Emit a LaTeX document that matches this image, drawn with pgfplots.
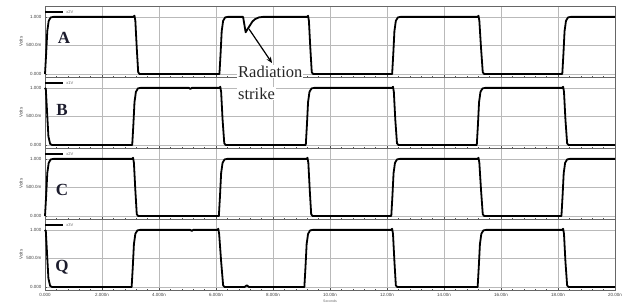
\documentclass[border=0pt]{standalone}
\usepackage{fontspec}
\setmainfont{Liberation Serif}
\newfontfamily\arial{Liberation Sans}
\usepackage{pgfplots}
\pgfplotsset{compat=1.18}
\usetikzlibrary{arrows.meta}
\definecolor{lbl}{RGB}{28,28,45}
\pgfplotsset{
  panel/.style={
    scale only axis, width=570pt, height=71pt, anchor=south west,
    xmin=0, xmax=20, ymin=-0.052, ymax=1.19,
    xtick={0,2,...,20}, ytick={0,0.5,1},
    yticklabels={0.000,500.0m,1.000},
    minor x tick num=4, minor y tick num=4,
    tick align=inside, major tick length=2pt, minor tick length=1.2pt,
    tick style={black!70, line width=0.4pt},
    xtick pos=bottom, ytick pos=left,
    grid=major, major grid style={gray!55, line width=0.6pt},
    axis line style={black!60, line width=0.8pt},
    ticklabel style={font=\arial\fontsize{4.5}{5}\selectfont, text=black!75},
    /pgf/number format/assume math mode=true,
    ylabel={Volts}, ylabel style={font=\arial\fontsize{4.5}{5}\selectfont, text=black!75, yshift=-3pt},
    clip=false,
    every axis plot post/.append style={black, line width=1.8pt, line join=round, mark=none},
  },
}
\newcommand{\hdr}[1]{%
  \draw[black, line width=2.6pt] (rel axis cs:0,0.915) -- (rel axis cs:0.032,0.915);
  \node[anchor=west, font=\arial\fontsize{4}{5}\selectfont, text=black!60, inner sep=0pt] at (rel axis cs:0.037,0.915) {#1};
}
\begin{document}
\begin{tikzpicture}
\path[use as bounding box] (0,0) rectangle (628pt,306pt);
% Panel A
\begin{axis}[panel, at={(45pt,229pt)}, xticklabels={}]
\addplot coordinates {(0,0)(0.04,0.35)(0.08,0.75)(0.13,0.93)(0.2,0.99)(0.3,1)
(3.1,1)(3.14,1.02)(3.17,0.93)(3.22,0.45)(3.27,0.03)(3.32,0)
(6.12,0)(6.16,0.35)(6.2,0.75)(6.25,0.93)(6.32,0.99)(6.42,1)
(6.95,1)(7.04,0.73)(7.1,0.78)(7.19,0.85)(7.28,0.92)(7.37,0.96)(7.5,0.99)(7.65,1)
(9.2,1)(9.23,1.02)(9.26,0.93)(9.31,0.45)(9.36,0.03)(9.41,0)
(12.18,0)(12.22,0.35)(12.26,0.75)(12.31,0.93)(12.38,0.99)(12.48,1)
(15.18,1)(15.21,1.02)(15.24,0.93)(15.3,0.45)(15.36,0.03)(15.41,0)
(18.15,0)(18.19,0.35)(18.23,0.75)(18.28,0.93)(18.35,0.99)(18.45,1)(20,1)};
\hdr{x2V}
\node[font=\bfseries\fontsize{17}{18}\selectfont, text=lbl] at (axis cs:0.67,0.64) {A};
\end{axis}
% Panel B
\begin{axis}[panel, at={(45pt,158pt)}, xticklabels={}]
\addplot coordinates {(0,1)(0.03,0.97)(0.07,0.6)(0.12,0.15)(0.18,0.02)(0.25,0)
(3.06,0)(3.1,0.35)(3.14,0.75)(3.19,0.93)(3.26,0.99)(3.36,1)
(5.05,1)(5.1,0.98)(5.15,1)
(6.12,1)(6.15,1.02)(6.18,0.93)(6.23,0.45)(6.29,0.03)(6.34,0)
(9.15,0)(9.19,0.35)(9.23,0.75)(9.28,0.93)(9.35,0.99)(9.45,1)
(12.18,1)(12.21,1.02)(12.24,0.93)(12.29,0.45)(12.35,0.03)(12.4,0)
(15.15,0)(15.19,0.35)(15.23,0.75)(15.28,0.93)(15.35,0.99)(15.45,1)
(18.15,1)(18.18,1.02)(18.21,0.93)(18.26,0.45)(18.32,0.03)(18.37,0)(20,0)};
\hdr{x1V}
\node[font=\bfseries\fontsize{17}{18}\selectfont, text=lbl] at (axis cs:0.6,0.61) {B};
\end{axis}
% Panel C
\begin{axis}[panel, at={(45pt,87pt)}, xticklabels={}]
\addplot coordinates {(0,0)(0.04,0.35)(0.08,0.75)(0.13,0.93)(0.2,0.99)(0.3,1)
(3.06,1)(3.09,1.02)(3.12,0.93)(3.17,0.45)(3.22,0.03)(3.27,0)
(6.1,0)(6.14,0.35)(6.18,0.75)(6.23,0.93)(6.3,0.99)(6.4,1)
(9.18,1)(9.21,1.02)(9.24,0.93)(9.29,0.45)(9.34,0.03)(9.39,0)
(12.15,0)(12.19,0.35)(12.23,0.75)(12.28,0.93)(12.35,0.99)(12.45,1)
(15.18,1)(15.21,1.02)(15.24,0.93)(15.3,0.45)(15.36,0.03)(15.41,0)
(18.12,0)(18.16,0.35)(18.2,0.75)(18.25,0.93)(18.32,0.99)(18.42,1)(20,1)};
\hdr{x2V}
\node[font=\bfseries\fontsize{17}{18}\selectfont, text=lbl] at (axis cs:0.6,0.45) {C};
\end{axis}
% Panel Q
\begin{axis}[panel, at={(45pt,16pt)},
  xticklabels={0.000,2.000n,4.000n,6.000n,8.000n,10.00n,12.00n,14.00n,16.00n,18.00n,20.00n},
  xlabel={Seconds}, xlabel style={font=\arial\fontsize{3.5}{4}\selectfont, text=black!60, yshift=4pt}]
\addplot coordinates {(0,1)(0.03,0.97)(0.07,0.6)(0.12,0.15)(0.18,0.02)(0.25,0)
(3.04,0)(3.08,0.35)(3.12,0.75)(3.17,0.93)(3.24,0.99)(3.34,1)
(5.1,1)(5.15,0.98)(5.2,1)
(6.05,1)(6.08,1.02)(6.11,0.93)(6.18,0.45)(6.25,0.03)(6.3,0)
(7.0,0)(7.08,0.03)(7.16,0)
(9.1,0)(9.14,0.35)(9.18,0.75)(9.23,0.93)(9.3,0.99)(9.4,1)
(12.15,1)(12.18,1.02)(12.21,0.93)(12.26,0.45)(12.31,0.03)(12.36,0)
(15.18,0)(15.22,0.35)(15.26,0.75)(15.31,0.93)(15.38,0.99)(15.48,1)
(18.15,1)(18.18,1.02)(18.21,0.93)(18.26,0.45)(18.32,0.03)(18.37,0)(20,0)};
\hdr{x3V}
\node[font=\bfseries\fontsize{17}{18}\selectfont, text=lbl] at (axis cs:0.6,0.35) {Q};
\end{axis}
% annotation
\node[anchor=base west, fill=white, inner sep=1pt, font=\fontsize{16.5}{18}\selectfont, text=black!85] at (237pt,229pt) {Radiation};
\node[anchor=base west, fill=white, inner sep=1pt, font=\fontsize{16.5}{18}\selectfont, text=black!85] at (237pt,207pt) {strike};
\draw[black, line width=1.2pt, -{Stealth[length=6pt,width=5pt]}] (249pt,277pt) -- (272pt,243pt);
\end{tikzpicture}
\end{document}
